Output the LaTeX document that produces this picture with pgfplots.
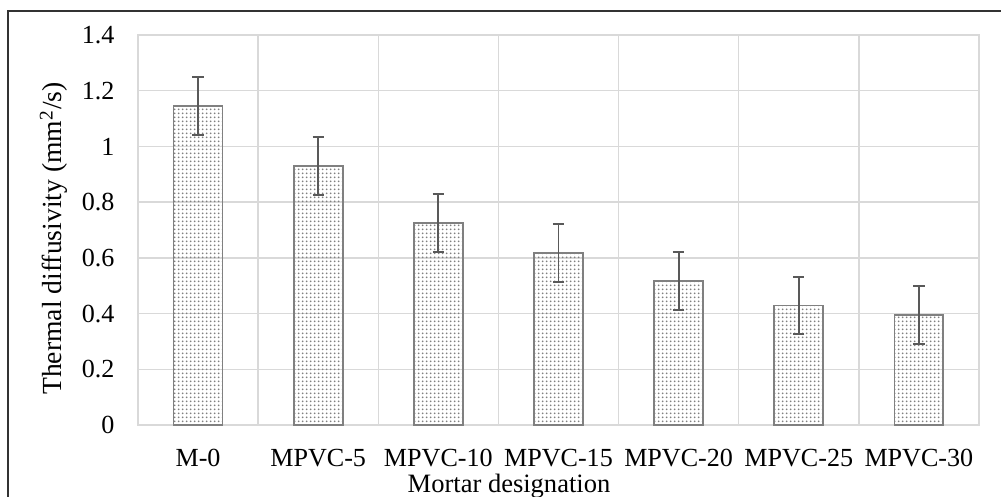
\documentclass[border=0pt]{standalone}
\usepackage{pgfplots}
\pgfplotsset{compat=1.18}
\usepackage{fontspec}
\setmainfont{Liberation Serif}
\usetikzlibrary{patterns.meta}
\definecolor{gridc}{HTML}{D9D9D9}
\definecolor{barc}{HTML}{808080}
\definecolor{errc}{HTML}{595959}
\tikzdeclarepattern{
  name=fdots,
  type=uncolored,
  bounding box={(0pt,0pt) and (1.9pt,1.9pt)},
  tile size={(1.9pt,1.9pt)},
  code={\pgfpathcircle{\pgfqpoint{0.95pt}{0.95pt}}{0.55pt}\pgfusepath{fill}}
}
\pgfplotstableread{
x val err
0 1.145 0.104
1 0.930 0.104
2 0.725 0.104
3 0.618 0.104
4 0.516 0.104
5 0.429 0.104
6 0.396 0.104
}\datatab
\begin{document}
\fontsize{12}{14}\selectfont
\begin{tikzpicture}[x=0.46pt,y=0.46pt]
\clip (0,0) rectangle (1001,497);
\useasboundingbox (0,0) rectangle (1001,497);
\draw[line width=0.8pt, color=black!80] (8,486) rectangle (1010,-20);
\begin{axis}[
  at={(63.48pt,33.12pt)}, anchor=south west,
  scale only axis,
  width=386.86pt, height=179.4pt,
  xmin=-0.5, xmax=6.5, ymin=0, ymax=1.4,
  ytick={0,0.2,...,1.4},
  yticklabels={0,0.2,0.4,0.6,0.8,1,1.2,1.4},
  xtick=data,
  xticklabels={M-0,MPVC-5,MPVC-10,MPVC-15,MPVC-20,MPVC-25,MPVC-30},
  minor xtick={-0.5,0.5,...,6.5},
  xminorgrids=true, ymajorgrids=true, xmajorgrids=false,
  grid style={gridc, line width=0.7pt},
  minor grid style={gridc, line width=0.7pt},
  axis line style={gridc, line width=0.7pt},
  major tick length=0pt, minor tick length=0pt,
  tick style={draw=none},
  /pgf/number format/assume math mode=true,
  ticklabel style={font=\fontsize{12}{14}\selectfont},
  yticklabel style={anchor=east, inner sep=0pt, xshift=-10.6pt},
  xticklabel style={anchor=base, inner sep=0pt, yshift=-18.9pt},
  ybar, bar width=22.5pt,
  clip=false,
]
\addplot[draw=barc, line width=0.8pt, pattern=fdots, pattern color=barc,
  error bars/.cd, y dir=both, y explicit,
  error bar style={errc, line width=0.9pt},
  error mark options={errc, rotate=90, mark size=2.6pt, line width=0.9pt}]
  table[x=x, y=val, y error=err] {\datatab};
\end{axis}
\node[anchor=base, inner sep=0pt, font=\fontsize{12.2}{14}\selectfont] at (509,4) {Mortar designation};
\node[anchor=base, rotate=90, inner sep=0pt, font=\fontsize{12.7}{15}\selectfont] at (62,258.5) {Thermal diffusivity (mm\textsuperscript{2}/s)};
\end{tikzpicture}
\end{document}
